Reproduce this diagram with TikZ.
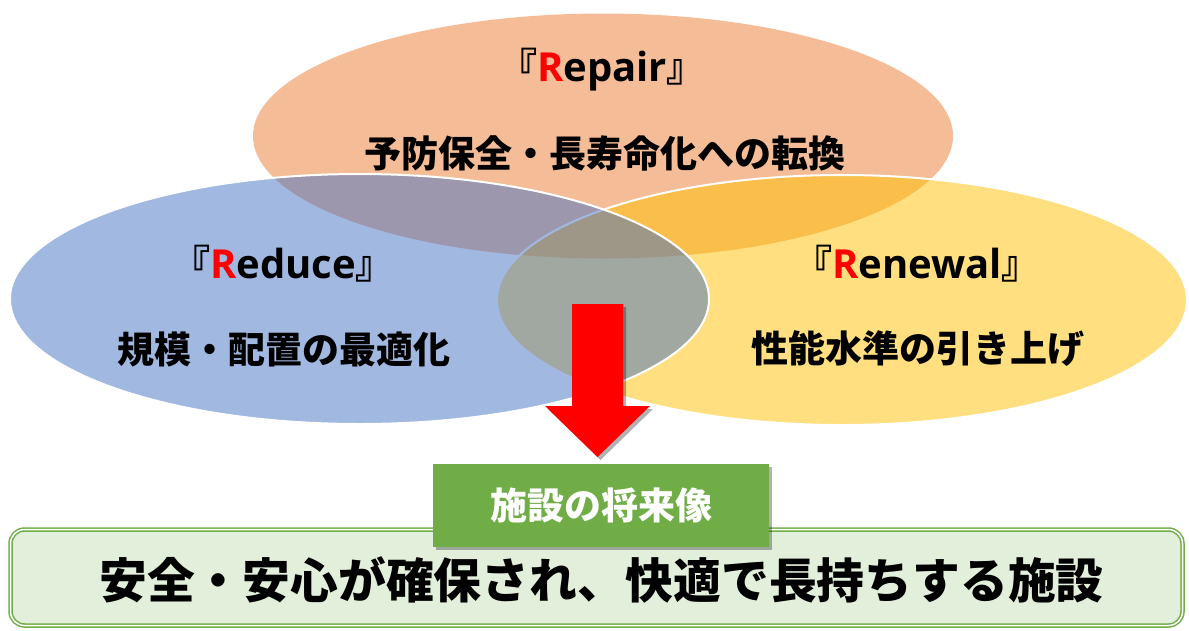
\documentclass[tikz,border=0pt]{standalone}
\usepackage{fontspec}
\newfontfamily\jpfont{Noto Sans CJK JP}
\newfontfamily\latfont{Open Sans}
\usetikzlibrary{shapes.geometric,shadows}
\definecolor{orangeA}{HTML}{ED7D31}
\definecolor{blueA}{HTML}{4472C4}
\definecolor{yellowA}{HTML}{FFC000}
\definecolor{greenA}{HTML}{70AD47}
\definecolor{greenL}{HTML}{E2EFDA}
\newcommand\rtitle[1]{{\jpfont\bfseries\fontsize{39}{40}\selectfont 『}{\latfont\bfseries\textcolor{red}{R}#1}{\jpfont\bfseries\fontsize{39}{40}\selectfont 』}}
\begin{document}
\begin{tikzpicture}[x=1pt,y=-1pt,
  venn/.style={ellipse, inner sep=0pt, fill opacity=0.5},
  ttl/.style={anchor=base, font=\fontsize{40}{42}\selectfont, inner sep=0pt},
  sub/.style={font=\jpfont\bfseries\fontsize{37}{40}\selectfont, inner sep=0pt},
  shad/.style={drop shadow={shadow xshift=3pt, shadow yshift=-3pt, opacity=0.3, fill=black}},
]
\fill[white] (0,0) rectangle (1189,630);
\useasboundingbox (0,0) rectangle (1189,630);
% Venn ellipses
\node[venn, fill=orangeA, minimum width=700pt, minimum height=245pt] (repair) at (603,136) {};
\node[venn, fill=yellowA, draw=white, line width=2pt, minimum width=690pt, minimum height=250pt] (renewal) at (842,300) {};
\node[venn, fill=blueA, draw=white, line width=2pt, minimum width=699pt, minimum height=250pt] (reduce) at (359.5,299) {};
% texts
\node[ttl] (tRepair) at (602,81) {\rtitle{epair}};
\node[sub] (sRepair) at (605,153) {予防保全・長寿命化への転換};
\node[ttl] (tReduce) at (283,278) {\rtitle{educe}};
\node[sub] (sReduce) at (284,349) {規模・配置の最適化};
\node[ttl] (tRenewal) at (917,278) {\rtitle{enewal}};
\node[sub] (sRenewal) at (918,349) {性能水準の引き上げ};
% arrow
\fill[red, shad] (572,304) -- (623,304) -- (623,406) -- (650,406) -- (597.5,457) -- (545,406) -- (572,406) -- cycle;
% bottom box
\node[draw=greenA, double=white, double distance=1.5pt, line width=1.5pt, fill=greenL,
      rounded corners=14pt, minimum width=1172pt, minimum height=96pt, inner sep=0pt] (vision) at (596.5,577.5) {};
\node[font=\jpfont\bfseries\fontsize{47.8}{50}\selectfont, inner sep=0pt] (visiontext) at (601.5,580) {安全・安心が確保され、快適で長持ちする施設};
% green label
\node[fill=greenA, shad, minimum width=336pt, minimum height=83pt, inner sep=0pt,
      text=white, font=\jpfont\bfseries\fontsize{37}{40}\selectfont] (future) at (601,505.5) {施設の将来像};
\end{tikzpicture}
\end{document}
